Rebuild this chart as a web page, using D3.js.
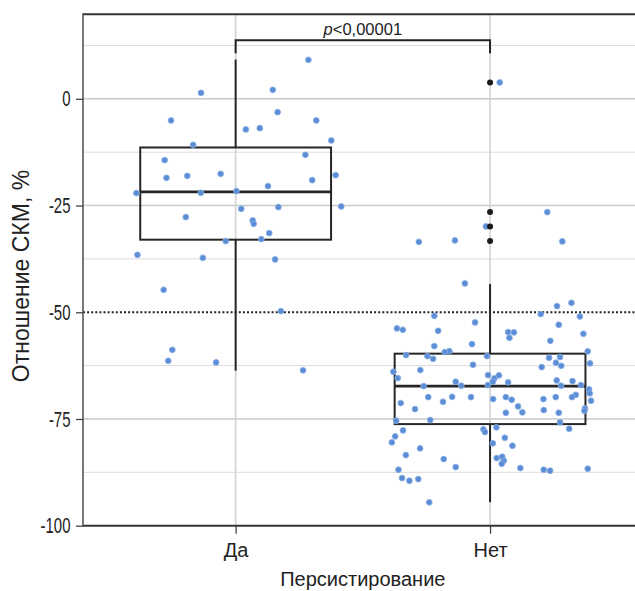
<!DOCTYPE html>
<html>
<head>
<meta charset="utf-8">
<script src="https://cdn.jsdelivr.net/npm/d3@7"></script>
<style>
  html, body { margin: 0; padding: 0; background: #fff; }
  svg { display: block; }
  text { font-family: "Liberation Sans", Arial, "Roboto", sans-serif; fill: #222; }
</style>
</head>
<body>
<svg id="chart" width="635" height="591"></svg>
<script>
// Groups on the x axis
const categories = ["Да", "Нет"];

// Y axis ticks and the lighter in-between grid
const yTicks = [0, -25, -50, -75, -100];
const yMinor = [12.5, -12.5, -37.5, -62.5, -87.5];
const threshold = -50;

// Box statistics per group (Да, Нет)
const q1 = [-33.0, -76.2];
const median = [-21.8, -67.3];
const q3 = [-11.4, -59.7];
const whiskerLow = [-63.7, -94.5];
const whiskerHigh = [9.2, -43.4];

// Outliers of the "Нет" group
const outliersNo = [3.8, -26.5, -29.9, -33.3];

// Individual observations: [jitter (in group units), value]
const pointsYes = [
  [0.286, 9.13], [-0.136, 1.40], [0.146, 2.10], [-0.254, -5.07], [0.165, -3.12],
  [0.317, -5.07], [0.040, -7.17], [0.095, -6.87], [0.376, -9.75], [-0.167, -10.78],
  [0.274, -13.12], [-0.279, -14.36], [-0.272, -18.51], [-0.190, -18.04], [-0.059, -17.57],
  [0.393, -17.88], [0.301, -19.05], [0.127, -20.45], [-0.390, -22.09], [-0.137, -22.02],
  [0.003, -21.62], [0.415, -25.21], [0.022, -25.77], [0.168, -25.37], [-0.196, -27.71],
  [0.067, -28.49], [0.071, -29.28], [0.132, -31.46], [0.101, -32.86], [-0.039, -33.33],
  [-0.386, -36.54], [-0.129, -37.24], [0.155, -37.62], [-0.283, -44.74], [0.178, -49.73],
  [-0.249, -58.79], [-0.265, -61.37], [-0.077, -61.74], [0.265, -63.61]
];

const pointsNo = [
  [0.038, 3.83], [-0.016, -29.89], [0.225, -26.54], [0.284, -33.40], [-0.280, -33.50],
  [-0.138, -33.17], [-0.099, -43.24], [-0.219, -50.83], [-0.059, -52.37], [-0.366, -53.78],
  [-0.343, -54.11], [-0.204, -54.34], [0.071, -54.64], [0.094, -54.71], [0.076, -55.98],
  [-0.071, -57.45], [-0.219, -57.92], [-0.160, -59.09], [-0.178, -59.33], [-0.330, -60.03],
  [-0.246, -60.27], [-0.224, -60.90], [-0.012, -60.27], [-0.067, -62.30], [-0.274, -63.54],
  [-0.380, -63.94], [-0.363, -65.42], [-0.008, -64.71], [0.017, -65.49], [0.035, -64.78],
  [0.011, -66.28], [0.071, -66.42], [-0.135, -66.28], [-0.113, -67.22], [-0.261, -67.29],
  [-0.009, -67.06], [-0.243, -69.87], [-0.149, -69.80], [-0.075, -69.87], [0.012, -70.34],
  [0.062, -69.87], [0.085, -70.50], [-0.351, -71.27], [-0.185, -70.97], [-0.295, -72.68],
  [0.110, -72.05], [0.062, -73.54], [0.127, -73.45], [-0.369, -75.42], [-0.235, -75.25],
  [0.025, -76.96], [-0.026, -77.43], [-0.020, -78.06], [-0.342, -77.67], [-0.373, -79.07],
  [-0.386, -80.48], [0.011, -80.71], [0.058, -79.40], [0.088, -81.27], [-0.275, -81.88],
  [-0.331, -83.45], [-0.182, -84.39], [0.026, -84.15], [0.048, -83.85], [0.054, -84.78],
  [0.046, -85.49], [-0.135, -86.26], [0.119, -86.49], [-0.360, -86.89], [-0.346, -88.84],
  [-0.317, -89.47], [-0.282, -89.07], [-0.239, -94.53],
  [0.320, -47.78], [0.263, -48.56], [0.199, -50.43], [0.353, -50.97], [0.270, -52.93],
  [0.367, -55.04], [0.237, -56.68], [0.384, -59.16], [0.232, -60.66], [0.275, -60.50],
  [0.259, -61.83], [0.280, -62.54], [0.203, -62.84], [0.393, -61.97], [0.262, -65.96],
  [0.324, -66.12], [0.357, -67.06], [0.279, -67.22], [0.389, -68.06], [0.392, -69.00],
  [0.337, -69.33], [0.322, -69.87], [0.258, -69.87], [0.210, -70.34], [0.397, -70.73],
  [0.211, -72.91], [0.373, -72.51], [0.371, -73.08], [0.270, -73.54], [0.275, -75.79],
  [0.311, -77.29], [0.211, -86.89], [0.236, -87.13], [0.384, -86.66]
];

const pValueLabel = "<0,00001";

// ---- layout ----
const svg = d3.select("#chart");
const W = 635, H = 591;
const x = d3.scaleLinear().domain([0.4, 2.6]).range([83, 642.7]);
const y = d3.scaleLinear().domain([-100, 19.8]).range([525.7, 14.3]);
const plotLeft = x.range()[0], plotRight = W;
const plotTop = y.range()[1], plotBottom = y.range()[0];
const boxHalf = 0.375;
const tickSqueeze = 0.68; // narrow figures on the value axis

svg.append("defs").append("clipPath").attr("id", "plot-clip")
  .append("rect").attr("x", plotLeft).attr("y", plotTop)
  .attr("width", plotRight - plotLeft).attr("height", plotBottom - plotTop);

const plot = svg.append("g").attr("clip-path", "url(#plot-clip)");

// grid
plot.selectAll(".minor").data(yMinor).join("line")
  .attr("x1", plotLeft).attr("x2", plotRight)
  .attr("y1", d => y(d)).attr("y2", d => y(d))
  .attr("stroke", "#dcdcdc").attr("stroke-width", 1);

plot.selectAll(".major").data(yTicks.filter(d => d !== threshold && d !== -100)).join("line")
  .attr("x1", plotLeft).attr("x2", plotRight)
  .attr("y1", d => y(d)).attr("y2", d => y(d))
  .attr("stroke", "#c9c9c9").attr("stroke-width", 1.6);

plot.selectAll(".vgrid").data([1, 2]).join("line")
  .attr("x1", d => x(d)).attr("x2", d => x(d))
  .attr("y1", plotTop).attr("y2", plotBottom)
  .attr("stroke", "#d3d3d3").attr("stroke-width", 1.6);

// threshold line
plot.append("line")
  .attr("x1", plotLeft).attr("x2", plotRight)
  .attr("y1", y(threshold)).attr("y2", y(threshold))
  .attr("stroke", "#222").attr("stroke-width", 2)
  .attr("stroke-dasharray", "2,2.1");

// boxes and whiskers
categories.forEach((c, i) => {
  const cx = x(i + 1);
  const x0 = x(i + 1 - boxHalf), x1 = x(i + 1 + boxHalf);
  const g = plot.append("g").attr("stroke", "#262626").attr("fill", "none");
  g.append("line").attr("x1", cx).attr("x2", cx)
    .attr("y1", y(q3[i])).attr("y2", y(whiskerHigh[i])).attr("stroke-width", 2);
  g.append("line").attr("x1", cx).attr("x2", cx)
    .attr("y1", y(q1[i])).attr("y2", y(whiskerLow[i])).attr("stroke-width", 2);
  g.append("rect").attr("x", x0).attr("y", y(q3[i]))
    .attr("width", x1 - x0).attr("height", y(q1[i]) - y(q3[i]))
    .attr("stroke-width", 2);
  g.append("line").attr("x1", x0).attr("x2", x1)
    .attr("y1", y(median[i])).attr("y2", y(median[i])).attr("stroke-width", 2.6);
});

// jittered observations
const groups = [pointsYes, pointsNo];
groups.forEach((pts, i) => {
  plot.append("g").selectAll("circle").data(pts).join("circle")
    .attr("cx", d => x(i + 1 + d[0]))
    .attr("cy", d => y(d[1]))
    .attr("r", 2.9)
    .attr("fill", "#5b8dd6")
    .attr("stroke", "#86ade4")
    .attr("stroke-width", 0.9);
});

// outliers
plot.append("g").selectAll("circle").data(outliersNo).join("circle")
  .attr("cx", x(2)).attr("cy", d => y(d))
  .attr("r", 3).attr("fill", "#1b1b1b");

// significance bracket
const bTop = y(13.74), bLeg = y(10.7);
plot.append("path")
  .attr("d", `M${x(1)},${bLeg}V${bTop}H${x(2)}V${bLeg}`)
  .attr("fill", "none").attr("stroke", "#222").attr("stroke-width", 2);

const pt = svg.append("text")
  .attr("x", x(1.5)).attr("y", 34.5)
  .attr("text-anchor", "middle")
  .style("font-size", "16.5px");
pt.append("tspan").style("font-style", "italic").text("p");
pt.append("tspan").text(pValueLabel);

// frame
svg.append("line").attr("x1", plotLeft).attr("x2", plotRight).attr("y1", plotTop).attr("y2", plotTop)
  .attr("stroke", "#333").attr("stroke-width", 2);
svg.append("line").attr("x1", plotLeft).attr("x2", plotRight).attr("y1", plotBottom).attr("y2", plotBottom)
  .attr("stroke", "#333").attr("stroke-width", 2);
svg.append("line").attr("x1", plotLeft).attr("x2", plotLeft).attr("y1", plotTop - 1).attr("y2", plotBottom + 1)
  .attr("stroke", "#555").attr("stroke-width", 1.6);

// axes
const yAxis = svg.append("g").attr("transform", `translate(${plotLeft},0)`)
  .call(d3.axisLeft(y).tickValues(yTicks).tickSize(7).tickPadding(5).tickFormat(d => String(d)));
yAxis.select(".domain").remove();
yAxis.selectAll(".tick line").attr("stroke", "#444").attr("stroke-width", 1.3);
yAxis.selectAll(".tick text")
  .attr("x", -12.5 / tickSqueeze)
  .attr("transform", `scale(${tickSqueeze},1)`)
  .style("font-size", "22px").attr("fill", "#222");

const xAxis = svg.append("g").attr("transform", `translate(0,${plotBottom})`)
  .call(d3.axisBottom(x).tickValues([1, 2]).tickSize(8).tickPadding(9)
    .tickFormat(d => categories[d - 1]));
xAxis.select(".domain").remove();
xAxis.selectAll(".tick line").attr("stroke", "#444").attr("stroke-width", 1.3);
xAxis.selectAll(".tick text")
  .style("font-size", "20px").attr("fill", "#222");

// axis titles
svg.append("text")
  .attr("x", (x.range()[0] + x.range()[1]) / 2).attr("y", 585.5)
  .attr("text-anchor", "middle").style("font-size", "20px")
  .text("Персистирование");

svg.append("text")
  .attr("transform", "translate(28.5,276) rotate(-90)")
  .attr("text-anchor", "middle").style("font-size", "23px")
  .text("Отношение СКМ, %");
</script>
</body>
</html>
